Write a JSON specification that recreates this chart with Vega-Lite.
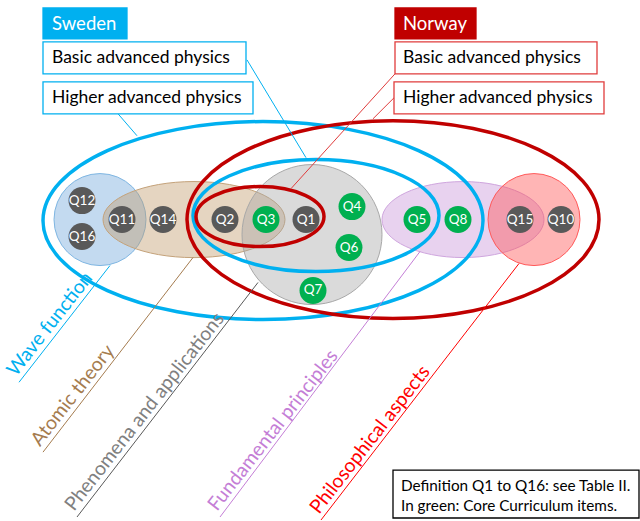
{
  "$schema": "https://vega.github.io/schema/vega-lite/v6.json",
  "width": 640,
  "height": 521,
  "autosize": {"type": "fit", "contains": "padding"},
  "padding": 0,
  "background": "white",
  "config": {"view": {"stroke": null}, "font": "Lato"},
  "datasets": {
    "shapes": [
      {"name": "wave", "kind": "area", "x": 100, "y": 220, "rx": 46},
      {"name": "atomic", "kind": "area", "x": 194, "y": 220, "rx": 91},
      {"name": "phenomena", "kind": "area", "x": 312, "y": 235, "rx": 70},
      {"name": "fundamental", "kind": "area", "x": 463, "y": 220, "rx": 81},
      {"name": "philosophical", "kind": "area", "x": 534, "y": 220, "rx": 46},
      {"name": "swe_higher", "kind": "ring", "x": 263, "y": 221, "rx": 220},
      {"name": "swe_basic", "kind": "ring", "x": 316, "y": 216, "rx": 123},
      {"name": "nor_higher", "kind": "ring", "x": 393, "y": 220, "rx": 206},
      {"name": "nor_basic", "kind": "ring", "x": 260, "y": 217, "rx": 64}
    ],
    "leaders": [
      {"cat": "sweden", "x": 247, "y": 60, "x2": 306, "y2": 158},
      {"cat": "sweden", "x": 118, "y": 114, "x2": 137, "y2": 136},
      {"cat": "norway", "x": 395, "y": 74, "x2": 291, "y2": 189},
      {"cat": "norway", "x": 394, "y": 98, "x2": 373, "y2": 119},
      {"cat": "wave", "x": 110, "y": 266, "x2": 19, "y2": 383},
      {"cat": "atomic", "x": 193, "y": 258, "x2": 43, "y2": 453},
      {"cat": "phenomena", "x": 258, "y": 283, "x2": 77, "y2": 518},
      {"cat": "fundamental", "x": 420, "y": 252, "x2": 220, "y2": 518},
      {"cat": "philosophical", "x": 519, "y": 264, "x2": 321, "y2": 521}
    ],
    "labels": [
      {"cat": "wave", "text": "Wave function", "x": 16, "y": 378},
      {"cat": "atomic", "text": "Atomic theory", "x": 40, "y": 448},
      {"cat": "phenomena", "text": "Phenomena and applications", "x": 74, "y": 513},
      {"cat": "fundamental", "text": "Fundamental principles", "x": 217, "y": 513},
      {"cat": "philosophical", "text": "Philosophical aspects", "x": 319, "y": 516}
    ],
    "items": [
      {"q": "Q12", "x": 82, "y": 201, "group": "other"},
      {"q": "Q16", "x": 82, "y": 237, "group": "other"},
      {"q": "Q11", "x": 122, "y": 220, "group": "other"},
      {"q": "Q14", "x": 163, "y": 220, "group": "other"},
      {"q": "Q2", "x": 225, "y": 220, "group": "other"},
      {"q": "Q3", "x": 266, "y": 220, "group": "core"},
      {"q": "Q1", "x": 306, "y": 220, "group": "other"},
      {"q": "Q4", "x": 352, "y": 207, "group": "core"},
      {"q": "Q6", "x": 349, "y": 248, "group": "core"},
      {"q": "Q7", "x": 313, "y": 291, "group": "core"},
      {"q": "Q5", "x": 417, "y": 220, "group": "core"},
      {"q": "Q8", "x": 458, "y": 220, "group": "core"},
      {"q": "Q15", "x": 520, "y": 220, "group": "other"},
      {"q": "Q10", "x": 561, "y": 220, "group": "other"}
    ],
    "boxes": [
      {"id": "sweden", "x": 43, "x2": 127, "y": 8, "y2": 39},
      {"id": "swe_basic", "x": 43, "x2": 246, "y": 42, "y2": 74},
      {"id": "swe_higher", "x": 43, "x2": 253, "y": 82, "y2": 114},
      {"id": "norway", "x": 395, "x2": 476, "y": 8, "y2": 39},
      {"id": "nor_basic", "x": 395, "x2": 597, "y": 42, "y2": 74},
      {"id": "nor_higher", "x": 394, "x2": 604, "y": 82, "y2": 114},
      {"id": "note", "x": 393, "x2": 639, "y": 471, "y2": 519}
    ],
    "titles": [
      {"text": "Sweden", "x": 52, "y": 24},
      {"text": "Norway", "x": 403, "y": 24}
    ],
    "boxlabels": [
      {"text": "Basic advanced physics", "x": 52, "y": 58},
      {"text": "Higher advanced physics", "x": 52, "y": 98},
      {"text": "Basic advanced physics", "x": 403, "y": 58},
      {"text": "Higher advanced physics", "x": 403, "y": 98}
    ],
    "notes": [
      {"text": "Definition Q1 to Q16: see Table II.", "x": 401, "y": 487},
      {"text": "In green: Core Curriculum items.", "x": 401, "y": 507}
    ]
  },
  "encoding": {
    "x": {"field": "x", "type": "quantitative", "scale": {"domain": [0, 640], "nice": false, "zero": false}, "axis": null},
    "y": {"field": "y", "type": "quantitative", "scale": {"domain": [0, 521], "nice": false, "zero": false, "reverse": true}, "axis": null}
  },
  "layer": [
    {
      "data": {"name": "shapes"},
      "mark": {"type": "point", "filled": true, "fillOpacity": 0.42, "strokeOpacity": 1},
      "encoding": {
        "shape": {"field": "name", "type": "nominal", "legend": null, "scale": {
          "domain": ["wave", "atomic", "phenomena", "fundamental", "philosophical", "swe_higher", "swe_basic", "nor_higher", "nor_basic"],
          "range": [
            "circle",
            "M-1,0C-1,-0.2309,-0.5523,-0.418,0,-0.418C0.5523,-0.418,1,-0.2309,1,0C1,0.2309,0.5523,0.418,0,0.418C-0.5523,0.418,-1,0.2309,-1,0Z",
            "circle",
            "M-1,0C-1,-0.259,-0.5523,-0.469,0,-0.469C0.5523,-0.469,1,-0.259,1,0C1,0.259,0.5523,0.469,0,0.469C-0.5523,0.469,-1,0.259,-1,0Z",
            "circle",
            "M-1,0C-1,-0.2485,-0.5523,-0.45,0,-0.45C0.5523,-0.45,1,-0.2485,1,0C1,0.2485,0.5523,0.45,0,0.45C-0.5523,0.45,-1,0.2485,-1,0Z",
            "M-1,0C-1,-0.2513,-0.5523,-0.455,0,-0.455C0.5523,-0.455,1,-0.2513,1,0C1,0.2513,0.5523,0.455,0,0.455C-0.5523,0.455,-1,0.2513,-1,0Z",
            "M-1,0C-1,-0.2651,-0.5523,-0.48,0,-0.48C0.5523,-0.48,1,-0.2651,1,0C1,0.2651,0.5523,0.48,0,0.48C-0.5523,0.48,-1,0.2651,-1,0Z",
            "M-1,0C-1,-0.259,-0.5523,-0.469,0,-0.469C0.5523,-0.469,1,-0.259,1,0C1,0.259,0.5523,0.469,0,0.469C-0.5523,0.469,-1,0.259,-1,0Z"
          ]}},
        "size": {"field": "rx", "type": "quantitative", "legend": null, "scale": {"type": "pow", "exponent": 2, "domain": [0, 250], "range": [0, 250000]}},
        "fill": {"field": "name", "type": "nominal", "legend": null, "scale": {
          "domain": ["wave", "atomic", "phenomena", "fundamental", "philosophical", "swe_higher", "swe_basic", "nor_higher", "nor_basic"],
          "range": ["#6FA8DC", "#C09A6B", "#A6A6A6", "#C994DA", "#FF4F4F", "transparent", "transparent", "transparent", "transparent"]}},
        "stroke": {"field": "name", "type": "nominal", "legend": null, "scale": {
          "domain": ["wave", "atomic", "phenomena", "fundamental", "philosophical", "swe_higher", "swe_basic", "nor_higher", "nor_basic"],
          "range": ["#7FB6E2", "#C4A27A", "#A8A8A8", "#CFA6DE", "#FF5A5A", "#00B0F0", "#00B0F0", "#C00000", "#C00000"]}},
        "strokeWidth": {"field": "kind", "type": "nominal", "legend": null, "scale": {"domain": ["area", "ring"], "range": [1, 3.5]}}
      }
    },
    {
      "data": {"name": "leaders"},
      "mark": {"type": "rule", "strokeWidth": 1},
      "encoding": {
        "x2": {"field": "x2"},
        "y2": {"field": "y2"},
        "color": {"field": "cat", "type": "nominal", "legend": null, "scale": {
          "domain": ["sweden", "norway", "wave", "atomic", "phenomena", "fundamental", "philosophical"],
          "range": ["#00B0F0", "#E03C3C", "#00B0F0", "#A57C4F", "#595959", "#C47ED6", "#FF0000"]}}
      }
    },
    {
      "data": {"name": "items"},
      "mark": {"type": "point", "filled": true, "shape": "circle", "size": 729, "opacity": 1},
      "encoding": {
        "fill": {"field": "group", "type": "nominal", "legend": null, "scale": {"domain": ["core", "other"], "range": ["#00B050", "#595959"]}}
      }
    },
    {
      "data": {"name": "items"},
      "mark": {"type": "text", "fontSize": 13.5, "color": "white", "align": "center", "baseline": "middle"},
      "encoding": {"text": {"field": "q"}}
    },
    {
      "data": {"name": "labels"},
      "mark": {"type": "text", "fontSize": 19.5, "angle": -52, "align": "left", "baseline": "alphabetic"},
      "encoding": {
        "text": {"field": "text"},
        "color": {"field": "cat", "type": "nominal", "legend": null, "scale": {
          "domain": ["wave", "atomic", "phenomena", "fundamental", "philosophical"],
          "range": ["#00B0F0", "#A57C4F", "#808080", "#C47ED6", "#FF0000"]}}
      }
    },
    {
      "data": {"name": "boxes"},
      "mark": {"type": "rect", "strokeWidth": 1.3},
      "encoding": {
        "x2": {"field": "x2"},
        "y2": {"field": "y2"},
        "fill": {"field": "id", "type": "nominal", "legend": null, "scale": {
          "domain": ["sweden", "swe_basic", "swe_higher", "norway", "nor_basic", "nor_higher", "note"],
          "range": ["#00B0F0", "#FFFFFF", "#FFFFFF", "#C00000", "#FFFFFF", "#FFFFFF", "#FFFFFF"]}},
        "stroke": {"field": "id", "type": "nominal", "legend": null, "scale": {
          "domain": ["sweden", "swe_basic", "swe_higher", "norway", "nor_basic", "nor_higher", "note"],
          "range": ["#00B0F0", "#00B0F0", "#00B0F0", "#C00000", "#E03C3C", "#E03C3C", "#000000"]}}
      }
    },
    {
      "data": {"name": "titles"},
      "mark": {"type": "text", "fontSize": 18.5, "color": "white", "align": "left", "baseline": "middle"},
      "encoding": {"text": {"field": "text"}}
    },
    {
      "data": {"name": "boxlabels"},
      "mark": {"type": "text", "fontSize": 17.5, "color": "black", "align": "left", "baseline": "middle"},
      "encoding": {"text": {"field": "text"}}
    },
    {
      "data": {"name": "notes"},
      "mark": {"type": "text", "fontSize": 15.3, "color": "black", "align": "left", "baseline": "middle"},
      "encoding": {"text": {"field": "text"}}
    }
  ],
  "resolve": {"scale": {"color": "independent", "fill": "independent", "stroke": "independent", "shape": "independent", "size": "independent", "strokeWidth": "independent"}}
}
